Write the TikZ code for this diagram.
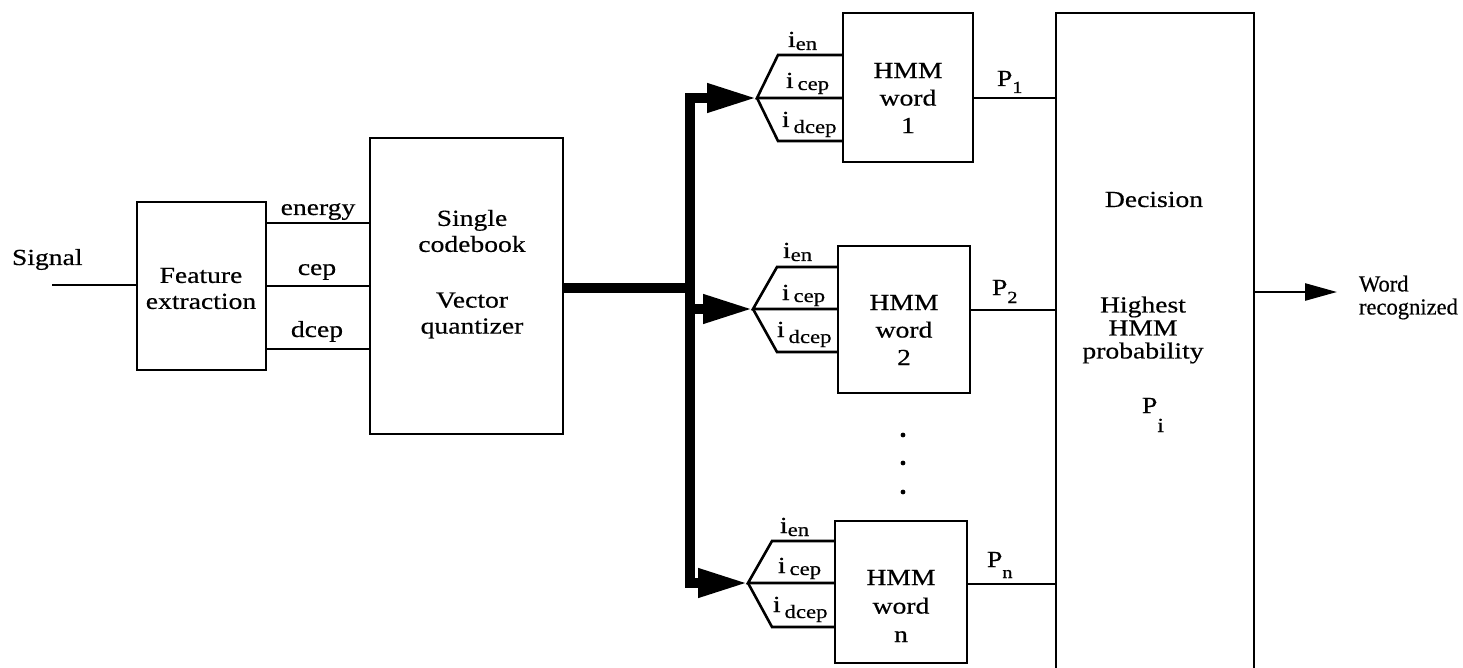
\documentclass[tikz,border=0pt]{standalone}
\usepackage{fontspec}
\setmainfont{Liberation Serif}[FakeStretch=1.2,FakeBold=0.5]
\newfontfamily\narrowserif{Liberation Serif}[FakeStretch=0.98,FakeBold=0.5]
\usetikzlibrary{arrows.meta}
\newcommand\subsz{\fontsize{19}{19}\selectfont}
\newcommand\psub{\fontsize{17}{17}\selectfont}
\begin{document}
\begin{tikzpicture}[x=1pt,y=-1pt,
  every node/.style={font=\fontsize{23}{26}\selectfont, inner sep=0pt, outer sep=0pt},
  box/.style={draw, line width=2.9pt},
  ln/.style={line width=2.6pt},
  bus/.style={line width=10pt, line join=miter},
  bigarr/.style={-{Triangle[length=50pt,width=27pt]}},
  smallarr/.style={-{Triangle[length=32pt,width=17pt]}},
  ilbl/.style={anchor=base west},
  plbl/.style={anchor=base west}
]
\useasboundingbox (0,0) rectangle (1463,668);

% Signal and feature extraction
\node[anchor=base west] (siglbl) at (12,265) {Signal};
\node[box, minimum width=129, minimum height=168] (fe) at (201.5,286) {};
\node[align=center] (fetxt) at (201,288.5) {Feature\\extraction};
\coordinate (sig) at (52,285);
\draw[ln] (sig) -- (sig -| fe.west);

% Vector quantizer
\node[box, minimum width=193, minimum height=296] (vq) at (466.5,286) {};
\node[align=center] (vqa) at (472,231) {Single\\codebook};
\node[align=center] (vqb) at (472,315.5) {Vector\\quantizer};

\draw[ln] (fe.east |- 0,223) -- (vq.west |- 0,223);
\draw[ln] (fe.east |- 0,286) -- (vq.west |- 0,286);
\draw[ln] (fe.east |- 0,349) -- (vq.west |- 0,349);
\node[anchor=base] (len) at (318,215) {energy};
\node[anchor=base] (lcep) at (317,275) {cep};
\node[anchor=base] (ldcep) at (317,337) {dcep};

% HMM boxes
\node[box, minimum width=130, minimum height=149] (h1) at (908,87.5) {};
\node[box, minimum width=132, minimum height=147] (h2) at (904,319.5) {};
\node[box, minimum width=132, minimum height=142] (hn) at (901,592) {};
\node[align=center, font=\fontsize{23}{27.5}\selectfont] (h1t) at (908,98) {HMM\\word\\1};
\node[align=center, font=\fontsize{23}{27.5}\selectfont] (h2t) at (904,330) {HMM\\word\\2};
\node[align=center, font=\fontsize{23}{28.5}\selectfont] (hnt) at (901,606) {HMM\\word\\n};

% Fork tips
\coordinate (t1) at (757,98);
\coordinate (t2) at (753,309);
\coordinate (tn) at (748,583);

% Bus
\coordinate (J) at (690,288);
\draw[bus] (vq.east |- J) -- (J);
\draw[bus, bigarr] (J) |- (t1);
\draw[bus, bigarr] (J) |- (tn);
\draw[bus, bigarr] (J |- t2) -- (t2);

% Forks
\draw[ln, line join=miter] (h1.west |- t1) -- (t1) -- ++(21,-43) coordinate (u1) -- (u1 -| h1.west);
\draw[ln, line join=miter] (t1) -- ++(21,43) coordinate (d1) -- (d1 -| h1.west);
\draw[ln, line join=miter] (h2.west |- t2) -- (t2) -- ++(24,-42) coordinate (u2) -- (u2 -| h2.west);
\draw[ln, line join=miter] (t2) -- ++(24,43) coordinate (d2) -- (d2 -| h2.west);
\draw[ln, line join=miter] (hn.west |- tn) -- (tn) -- ++(24,-42) coordinate (un) -- (un -| hn.west);
\draw[ln, line join=miter] (tn) -- ++(24,44) coordinate (dn) -- (dn -| hn.west);

% Fork labels
\node[ilbl] (a1) at (788,47) {i\raisebox{-3pt}{\subsz en}};
\node[ilbl] (b1) at (786,88) {i\,\raisebox{-2pt}{\subsz cep}};
\node[ilbl] (c1) at (782,127) {i\,\raisebox{-6pt}{\subsz dcep}};
\node[ilbl] (a2) at (783,258) {i\raisebox{-3pt}{\subsz en}};
\node[ilbl] (b2) at (782,300) {i\,\raisebox{-2pt}{\subsz cep}};
\node[ilbl] (c2) at (777,337) {i\,\raisebox{-6pt}{\subsz dcep}};
\node[ilbl] (an) at (780,533) {i\raisebox{-3pt}{\subsz en}};
\node[ilbl] (bn) at (778,573) {i\,\raisebox{-2pt}{\subsz cep}};
\node[ilbl] (cn) at (773,612) {i\,\raisebox{-6pt}{\subsz dcep}};

% Dots
\fill (903,435) circle (2.4);
\fill (903,463) circle (2.4);
\fill (903,492) circle (2.4);

% Decision box (open at the bottom edge of the picture)
\node[minimum width=198, minimum height=655, anchor=north west] (dec) at (1056,13) {};
\draw[box, line join=miter] (dec.south west) -- (dec.north west) -- (dec.north east) -- (dec.south east);
\node[anchor=base] (dect) at (1154,207) {Decision};
\node[align=center, font=\fontsize{23}{23}\selectfont] (hpt) at (1143,330) {Highest\\HMM\\probability};
\node[anchor=base west] (pit) at (1142,413) {P\raisebox{-19pt}{\fontsize{20}{20}\selectfont i}};

% P lines
\draw[ln] (h1.east |- t1) -- (dec.west |- t1);
\draw[ln] (h2.east |- 0,310) -- (dec.west |- 0,310);
\draw[ln] (hn.east |- 0,584) -- (dec.west |- 0,584);
\node[plbl] (p1) at (997,86) {P\raisebox{-7pt}{\psub 1}};
\node[plbl] (p2) at (992,295) {P\raisebox{-8pt}{\psub 2}};
\node[plbl] (pn) at (987,567) {P\raisebox{-11pt}{\psub n}};

% Output
\coordinate (o) at (1337,292);
\draw[ln, smallarr] (o -| dec.east) -- (o);
\node[align=left, anchor=west, font=\narrowserif\fontsize{23}{23}\selectfont] (wr) at (1359,297.5) {Word\\recognized};
\end{tikzpicture}
\end{document}
